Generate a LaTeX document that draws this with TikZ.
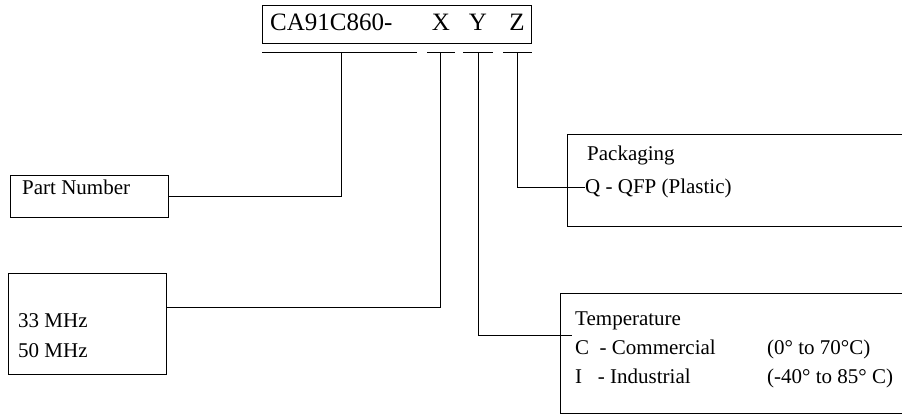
\documentclass[tikz,border=0pt]{standalone}
\usepackage{fontspec}
\setmainfont{Liberation Serif}
\usetikzlibrary{positioning}
\tikzset{
  frame/.style={draw,line width=0.8pt,inner sep=0pt,anchor=north west},
  txt/.style={font=\fontsize{21}{24}\selectfont,anchor=base west,inner sep=0pt},
  head/.style={font=\fontsize{25}{28}\selectfont,anchor=base,inner sep=0pt},
  wire/.style={line width=0.8pt},
}

\begin{document}
\begin{tikzpicture}[x=1pt,y=-1pt]
  \useasboundingbox (0,0) rectangle (902,415);
  % ---- part code ----
  \node[frame,minimum width=269pt,minimum height=38pt] (code) at (262,5) {};
  \node[head,anchor=base west] (base) at (270,30) {CA91C860-};
  \node[head] (fX) at (441,30) {X};
  \node[head] (fY) at (478,30) {Y};
  \node[head] (fZ) at (517,30) {Z};
  % ---- underlines ----
  \coordinate (pnL) at (262,52);
  \coordinate (pnR) at (417,52);
  \coordinate (pnT) at (341,52);
  \coordinate (xL) at (427,52);
  \coordinate (xR) at (455,52);
  \coordinate (xT) at (440,52);
  \coordinate (yL) at (463,52);
  \coordinate (yR) at (493,52);
  \coordinate (yT) at (478,52);
  \coordinate (zL) at (503,52);
  \coordinate (zR) at (532,52);
  \coordinate (zT) at (517,52);
  \draw[wire] (pnL) -- (pnR);
  \draw[wire] (xL) -- (xR);
  \draw[wire] (yL) -- (yR);
  \draw[wire] (zL) -- (zR);
  % ---- option boxes ----
  \node[frame,minimum width=158pt,minimum height=42pt] (pn) at (10,175) {};
  \node[txt] (pnText) at (22,194) {Part Number};
  \node[frame,minimum width=158pt,minimum height=101pt] (mhz) at (8,273) {};
  \node[txt] (m33) at (18,327) {33 MHz};
  \node[txt] (m50) at (18,357) {50 MHz};
  \node[frame,minimum width=345pt,minimum height=92pt] (pkg) at (567,134) {};
  \node[txt] (pkgHead) at (587,160) {Packaging};
  \node[txt] (pkgQ) at (585,193) {Q - QFP (Plastic)};
  \node[frame,minimum width=352pt,minimum height=120pt] (tmp) at (560,293) {};
  \node[txt] (tmpHead) at (575,325) {Temperature};
  \node[txt] (tmpC) at (575,354) {C\ \ - Commercial};
  \node[txt] (tmpCr) at (767,354) {(0° to 70°C)};
  \node[txt] (tmpI) at (575,383) {I\ \ \ - Industrial};
  \node[txt] (tmpIr) at (767,383) {(-40° to 85° C)};
  \coordinate (xEnd) at (166,307);
  \coordinate (yEnd) at (572,335);
  \coordinate (zEnd) at (585,187);
  % ---- connectors ----
  \draw[wire] (pnT) |- (pn.east);
  \draw[wire] (xT) |- (xEnd);
  \draw[wire] (yT) |- (yEnd);
  \draw[wire] (zT) |- (zEnd);
\end{tikzpicture}
\end{document}
